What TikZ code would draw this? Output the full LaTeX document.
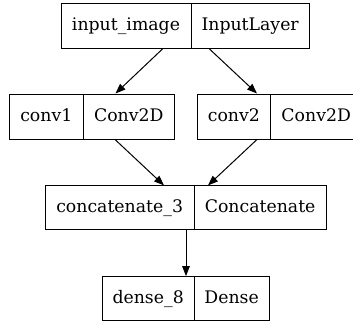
\documentclass[tikz,border=0pt]{standalone}
\usepackage{fontspec}
\setmainfont{DejaVu Serif}
\usetikzlibrary{arrows.meta}

\tikzset{
  field/.style={draw=black, line width=1pt, inner sep=0pt, anchor=center,
    text height=14pt, text depth=4pt,
    font=\fontsize{17.3}{20}\selectfont},
  arr/.style={draw=black, line width=1pt, -{Triangle[length=10pt,width=7.5pt]}}
}

\begin{document}
\begin{tikzpicture}[x=1pt, y=1pt]
  \useasboundingbox (0,0) rectangle (353,325);
  \clip (0,0) rectangle (353,325);

  % input layer record
  \node[field, minimum width=130pt,   minimum height=45pt] (inl) at (126,299.5)   {input\_image};
  \node[field, minimum width=118.3pt, minimum height=45pt] (inr) at (250.15,299.5) {InputLayer};

  % first convolution record
  \node[field, minimum width=74pt, minimum height=45pt] (c1l) at (46.3,208.5)  {conv1};
  \node[field, minimum width=91pt, minimum height=45pt] (c1r) at (128.8,208.5) {Conv2D};

  % second convolution record
  \node[field, minimum width=73.7pt, minimum height=45pt] (c2l) at (233.85,208.5) {conv2};
  \node[field, minimum width=91pt,   minimum height=45pt] (c2r) at (316.2,208.5)  {Conv2D};

  % concatenation record
  \node[field, minimum width=149.3pt, minimum height=43.8pt] (cal) at (119.65,117.2) {concatenate\_3};
  \node[field, minimum width=131.7pt, minimum height=43.8pt] (car) at (260.15,117.2) {Concatenate};

  % dense record
  \node[field, minimum width=92.3pt, minimum height=43.5pt] (dl) at (148.15,26.6) {dense\_8};
  \node[field, minimum width=74.7pt, minimum height=43.5pt] (dr) at (231.65,26.6) {Dense};

  % connections
  \draw[arr] ([xshift=37pt]inl.south)     -- ([xshift=-13.3pt]c1r.north);
  \draw[arr] ([xshift=-41.2pt]inr.south)  -- ([xshift=23.15pt]c2l.north);
  \draw[arr] ([xshift=-13.8pt]c1r.south)  -- ([xshift=44.35pt]cal.north);
  \draw[arr] ([xshift=23.15pt]c2l.south)  -- ([xshift=-52.15pt]car.north);
  \draw[arr] ([xshift=66.35pt]cal.south)  -- ([xshift=37.85pt]dl.north);
\end{tikzpicture}
\end{document}
